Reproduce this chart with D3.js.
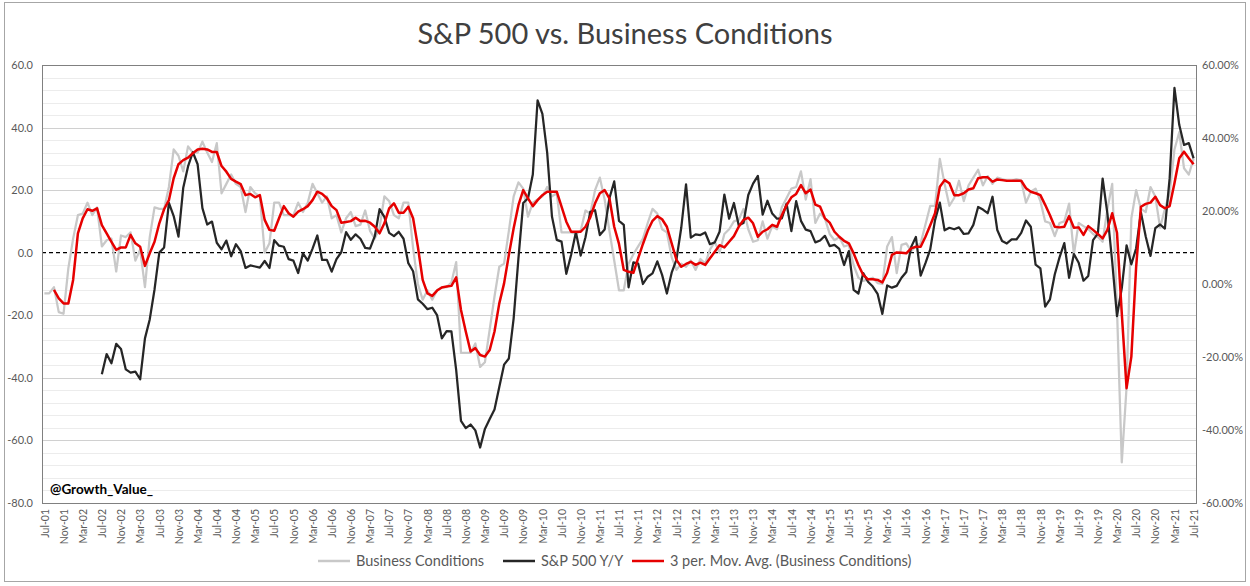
<!DOCTYPE html>
<html><head><meta charset="utf-8">
<script src="https://cdn.jsdelivr.net/npm/d3@7"></script>
<style>
body{margin:0;background:#fff;}
svg{display:block;font-family:Lato,"Open Sans",sans-serif;}
</style>
</head><body>
<svg id="chart" width="1250" height="586"></svg>
<script>
// ---------------- DATA ----------------
const startMonth = new Date(2001, 6, 1);   // Jul-01
const endMonth   = new Date(2021, 7, 1);   // exclusive (after Jul-21)

const tickLabels = ["Jul-01","Nov-01","Mar-02","Jul-02","Nov-02","Mar-03","Jul-03","Nov-03","Mar-04","Jul-04","Nov-04","Mar-05","Jul-05","Nov-05","Mar-06","Jul-06","Nov-06","Mar-07","Jul-07","Nov-07","Mar-08","Jul-08","Nov-08","Mar-09","Jul-09","Nov-09","Mar-10","Jul-10","Nov-10","Mar-11","Jul-11","Nov-11","Mar-12","Jul-12","Nov-12","Mar-13","Jul-13","Nov-13","Mar-14","Jul-14","Nov-14","Mar-15","Jul-15","Nov-15","Mar-16","Jul-16","Nov-16","Mar-17","Jul-17","Nov-17","Mar-18","Jul-18","Nov-18","Mar-19","Jul-19","Nov-19","Mar-20","Jul-20","Nov-20","Mar-21","Jul-21"];

const leftTicks  = [-80,-60,-40,-20,0,20,40,60];
const rightTicks = [-60,-40,-20,0,20,40,60];

// Business Conditions (left axis), Jul-01 .. Jul-21
const businessConditions = [
-13,-13,-11,-19,-19.5,-5,4.5,12,12.5,16,
12,14.5,2,4,4.5,-6,5.5,5,6.5,-2.5,
1,-11,5,14.5,14,14,21,33,31,26,
34,32,32,35.5,32,29,35,19,22,25,
22,21,13,21,19,18,0,3,16,16,
12,12,12,16,13,16,22,19,16,18,
11,12,6.5,11,13,8.5,9,13.5,7,4.5,
8,18,16.5,12,11,16,16,1.5,-10,-15,
-12,-15,-12,-11,-11,-9.5,-3,-32,-32,-32,
-29,-36.5,-35,-24.5,-14,-4.5,-3.5,7,18,22.5,
20.5,11.5,16,17,18,21,18,19,6.5,6.5,
6.5,6,7,13.5,12.5,20,24,17,7,-2.5,
-12,-12,-3.5,-0.5,2,4.5,9.5,14,12.5,7.5,
6.5,-1.5,-5.5,-3.5,-4.5,-2.5,-5.5,-2,-3.5,1,
3.5,0,6,7.5,10,10.5,14,7.5,3.5,4,
10,4.5,8.5,7.5,14.5,17.5,20.5,21,26,17,
23.5,9.5,12.5,11,6,4,5,2,2.5,-4,
-8,-9,-8.5,-8,-9.7,-10,2,5,-6.5,2.5,
3,0.5,2,3,9,15,15,30,22,15,
17.5,23,16.5,21.5,24,26.5,21.5,24.5,22,24,
23.5,23,23,23.5,23,16,19.5,20.5,16.5,10,
9.5,5.3,9.5,10,15.7,-0.5,9.5,8.5,7.6,6,
5,3.5,14,22,-18,-67,-43,11,20,14,
13,21,18,8,14,19,33,38.5,27,25,30
];

// 3 per. Mov. Avg. (Business Conditions)
const movingAverage = [
null,null,-11.9,-14.6,-16.2,-16.2,-8.7,6.2,11.0,13.9,
13.4,14.2,8.8,6.2,3.5,0.9,1.7,1.7,5.7,3.0,
1.9,-4.2,-0.2,3.5,9.4,13.9,16.8,23.8,28.3,29.6,
30.4,31.8,33.0,33.2,33.0,32.2,32.2,27.7,25.9,23.6,
22.7,21.9,18.4,18.8,17.7,18.4,10.5,7.3,7.0,11.0,
14.9,12.6,11.5,13.1,13.9,14.9,16.8,19.5,18.8,17.4,
14.9,13.6,9.6,9.8,10.1,11.2,10.1,10.2,9.6,8.3,
6.2,9.4,14.2,15.8,12.8,12.8,14.7,11.0,1.9,-8.7,
-13.0,-13.8,-12.1,-11.1,-10.8,-10.6,-7.9,-18.3,-25.2,-31.6,
-30.5,-32.7,-33.2,-31.1,-25.2,-16.2,-9.8,-0.7,7.8,15.2,
20.0,17.4,14.9,16.8,18.4,19.5,19.5,19.5,14.7,9.9,
6.7,6.7,6.7,8.3,11.3,15.8,19.0,20.0,17.4,8.3,
2.8,-5.5,-6.1,-6.4,-1.8,2.8,7.0,10.2,11.7,10.7,
8.3,3.0,-2.3,-4.5,-3.6,-2.9,-3.9,-3.2,-3.9,-1.8,
0.3,2.4,1.7,3.5,5.3,8.3,10.5,11.2,9.4,5.1,
6.7,7.5,8.9,8.3,12.0,15.2,17.7,18.8,21.6,19.0,
20.2,15.4,14.7,11.0,9.6,6.7,5.1,3.8,3.0,-0.2,
-3.9,-7.1,-8.5,-8.5,-8.7,-9.5,-6.4,-0.7,0.1,0.0,
-0.2,1.4,1.9,1.9,5.1,8.8,12.6,21.1,23.2,22.2,
18.4,18.4,19.0,20.2,20.6,23.8,24.1,24.1,22.7,23.4,
23.2,23.0,23.0,23.0,23.0,20.6,19.5,19.0,18.4,15.3,
12.0,8.3,8.1,8.3,11.7,8.0,8.1,5.7,8.5,7.3,
6.0,4.6,7.3,12.6,6.4,-19.4,-43.3,-33.2,-4.5,14.7,
15.6,16.0,17.9,15.2,14.2,14.9,22.2,30.2,32.3,30.2,28.3
];

// S&P 500 Y/Y in percent (right axis), starts Jul-02
const sp500YoY = [
null,null,null,null,null,null,null,null,null,null,
null,null,-24.7,-19.2,-21.7,-16.4,-17.8,-23.4,-24.3,-24.0,
-26.1,-14.9,-9.7,-1.5,8.6,10.0,22.2,18.6,13.0,26.4,
32.2,36.1,32.8,20.8,16.3,17.1,11.3,9.5,11.9,7.6,
10.9,9.0,4.4,5.1,4.8,4.5,6.3,4.4,12.0,10.5,
10.2,6.8,6.4,3.0,8.4,6.4,9.7,13.3,6.6,6.6,
3.4,6.8,8.7,14.2,12.1,13.6,12.4,9.9,9.7,13.1,
20.5,18.4,14.0,13.1,14.3,12.4,5.7,3.5,-4.2,-5.4,
-6.9,-6.5,-8.5,-14.9,-12.9,-13.0,-23.6,-37.5,-39.5,-38.5,
-40.1,-44.8,-39.7,-37.0,-34.4,-28.2,-22.1,-20.4,-9.4,7.0,
22.2,23.5,30.0,50.3,46.6,36.0,18.5,12.1,11.6,2.8,
8.0,14.2,7.8,12.8,19.8,20.2,13.4,14.9,23.5,28.1,
17.3,16.2,-0.9,5.9,5.6,0.0,2.0,2.9,6.2,2.5,
-2.6,3.1,6.7,15.4,27.3,12.7,13.6,13.4,14.1,10.9,
11.4,14.3,24.5,17.9,22.2,16.1,16.7,24.4,27.5,29.6,
19.0,22.8,19.3,17.9,18.0,22.0,14.5,22.7,17.3,14.9,
14.5,11.4,11.9,13.2,10.4,10.7,9.6,5.2,9.0,-1.6,
-2.6,3.0,0.6,-0.7,-2.7,-8.2,-0.4,-1.0,-0.5,1.7,
3.3,10.1,12.9,2.3,5.7,9.5,17.5,22.3,14.7,15.4,
15.0,15.5,13.7,13.9,16.2,21.1,20.4,19.4,23.9,14.8,
11.8,11.1,12.2,12.2,14.0,17.4,15.7,5.3,4.3,-6.2,
-4.2,2.6,7.3,11.2,1.7,8.2,5.8,0.9,2.2,12.0,
13.8,28.9,19.3,6.1,-8.8,-1.1,10.6,5.4,9.8,19.6,
13.0,7.7,15.3,16.3,15.2,29.0,53.7,43.6,38.1,38.6,34.4
];

const legendItems = ["Business Conditions", "S&P 500 Y/Y", "3 per. Mov. Avg. (Business Conditions)"];

// ---------------- CHART ----------------
const fmtMonth = d3.timeFormat("%b-%y");
const categories = d3.timeMonth.range(startMonth, endMonth).map(fmtMonth);

const plot = {left: 42, right: 1196, top: 65, bottom: 503};
const svg = d3.select("#chart");

svg.append("rect").attr("x",0).attr("y",0).attr("width",1250).attr("height",586).attr("fill","#fff");
svg.append("rect").attr("x",4.5).attr("y",2.5).attr("width",1241).attr("height",579)
  .attr("fill","none").attr("stroke","#a6a6a6").attr("stroke-width",1);

const x = d3.scalePoint().domain(categories).range([plot.left, plot.right]).padding(0.5);
const yL = d3.scaleLinear().domain([-80, 60]).range([plot.bottom, plot.top]);
const yR = d3.scaleLinear().domain([-60, 60]).range([plot.bottom, plot.top]);

// title
svg.append("text").attr("x", 625).attr("y", 44).attr("text-anchor","middle")
  .attr("font-size", 29).attr("fill","#404040").text("S&P 500 vs. Business Conditions");

// minor gridlines
const minor = d3.range(-80, 61, 4).filter(v => v % 20 !== 0);
svg.append("g").selectAll("line").data(minor).join("line")
  .attr("x1", plot.left).attr("x2", plot.right)
  .attr("y1", d => Math.round(yL(d)) + 0.5).attr("y2", d => Math.round(yL(d)) + 0.5)
  .attr("stroke","#ececec").attr("stroke-width",1);
// major gridlines
svg.append("g").selectAll("line").data(leftTicks.filter(v => v !== 0 && v !== -80 && v !== 60)).join("line")
  .attr("x1", plot.left).attr("x2", plot.right)
  .attr("y1", d => Math.round(yL(d)) + 0.5).attr("y2", d => Math.round(yL(d)) + 0.5)
  .attr("stroke","#d0d0d0").attr("stroke-width",1);

// zero dashed line
svg.append("line").attr("x1", plot.left).attr("x2", plot.right)
  .attr("y1", yL(0)).attr("y2", yL(0))
  .attr("stroke","#000").attr("stroke-width",1.3).attr("stroke-dasharray","4,3");

// plot border
svg.append("rect").attr("x", plot.left + 0.5).attr("y", plot.top + 0.5)
  .attr("width", plot.right - plot.left).attr("height", plot.bottom - plot.top)
  .attr("fill","none").attr("stroke","#808080").attr("stroke-width",1);

// axes
const axisL = svg.append("g").attr("transform", `translate(${plot.left},0)`)
  .call(d3.axisLeft(yL).tickValues(leftTicks).tickSize(0).tickPadding(9).tickFormat(d => d.toFixed(1)));
const axisR = svg.append("g").attr("transform", `translate(${plot.right},0)`)
  .call(d3.axisRight(yR).tickValues(rightTicks).tickSize(0).tickPadding(6).tickFormat(d => d.toFixed(2) + "%"));
const axisB = svg.append("g").attr("transform", `translate(0,${plot.bottom})`)
  .call(d3.axisBottom(x).tickValues(tickLabels).tickSize(0));
[axisL, axisR, axisB].forEach(g => {
  g.select(".domain").remove();
  g.selectAll("text").attr("font-family","Lato, 'Open Sans', sans-serif").attr("font-size",11).attr("fill","#595959");
});
axisB.selectAll("text").attr("transform","rotate(-90)").attr("text-anchor","end")
  .attr("x",-6).attr("y",0).attr("dy","0.35em").attr("font-size",10.5);

// lines
const lineL = d3.line().defined(d => d.v !== null).x(d => x(d.c)).y(d => yL(d.v));
const lineR = d3.line().defined(d => d.v !== null).x(d => x(d.c)).y(d => yR(d.v));
const toPts = arr => arr.map((v, i) => ({c: categories[i], v: v}));

svg.append("path").datum(toPts(businessConditions)).attr("d", lineL)
  .attr("fill","none").attr("stroke","#c8c8c8").attr("stroke-width",2.25).attr("stroke-linejoin","round");
svg.append("path").datum(toPts(sp500YoY)).attr("d", lineR)
  .attr("fill","none").attr("stroke","#262626").attr("stroke-width",2.25).attr("stroke-linejoin","round");
svg.append("path").datum(toPts(movingAverage)).attr("d", lineL)
  .attr("fill","none").attr("stroke","#e60000").attr("stroke-width",2.5).attr("stroke-linejoin","round");

// watermark
svg.append("text").attr("x", 50).attr("y", 494).attr("font-size", 13.5).attr("font-weight","bold")
  .attr("fill","#000").text("@Growth_Value_");

// legend
const legendColors = ["#c8c8c8", "#262626", "#e60000"];
const legendX = [318, 503, 632];
const lg = svg.append("g");
legendItems.forEach((name, i) => {
  lg.append("line").attr("x1", legendX[i]).attr("x2", legendX[i] + 32).attr("y1", 561).attr("y2", 561)
    .attr("stroke", legendColors[i]).attr("stroke-width", 2.5);
  lg.append("text").attr("x", legendX[i] + 38).attr("y", 561).attr("dy","0.35em")
    .attr("font-size", 14.5).attr("fill","#595959").text(name);
});
</script>
</body></html>
